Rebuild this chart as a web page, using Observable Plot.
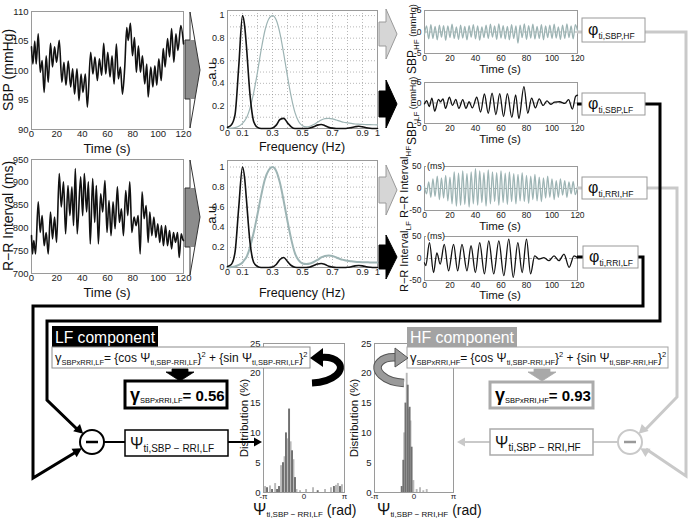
<!DOCTYPE html>
<html><head><meta charset="utf-8">
<script src="https://cdn.jsdelivr.net/npm/d3@7"></script>
<script src="https://cdn.jsdelivr.net/npm/@observablehq/plot@0.6"></script>
<style>
body{margin:0;background:#fff;}
#root{position:relative;width:689px;height:520px;overflow:hidden;background:#fff;font-family:"Liberation Sans",Arial,Helvetica,sans-serif;}
#root svg{position:absolute;overflow:visible;}
</style></head><body><div id="root"></div>
<script>
// ---------------- DATA ----------------
// Raw SBP (mmHg) vs time (s)
const sbpT = [0,1.1,2.6,3.7,5.3,6.9,8.4,10.0,11.6,13.2,15.0,16.6,18.2,19.8,21.9,24.0,25.6,27.2,29.0,30.9,32.5,34.0,35.9,37.5,39.1,40.6,42.5,44.1,46.7,48.5,50.1,52.0,53.6,55.4,57.0,58.6,60.2,62.0,63.6,65.2,67.0,68.6,70.2,71.8,73.6,75.2,76.3,78.1,79.7,81.3,82.8,84.4,86.0,87.6,89.4,91.0,92.1,94.2,95.8,97.4,98.9,100.5,102.4,104.0,105.5,107.4,109.0,110.6,112.4,114.0,115.6,117.9,120];
const sbpV = [104,101.1,105,101.1,106.2,99.7,101.7,96.3,102.5,98,104.6,100.6,104,101.4,105.1,98,101.4,97.5,101.6,97.2,100.3,96,100.3,94.9,99.4,96.3,99.4,93.8,103.1,99.4,102.3,98.3,102,99.2,104.6,99.4,103.1,98.9,102.5,97.7,104.5,98.6,100.6,96,100.5,107.3,105.1,108,102.5,105.6,99.7,104.2,99.7,102.5,97.7,101.1,95.5,100.6,97.2,100.8,97.5,102,98.3,103.7,100.6,105.4,102.3,107.1,101.4,106.2,103.4,107.6,104.5];
// Raw R-R interval (ms) vs time (s)
const rriT = [0,0.8,1.8,3.2,5.3,6.9,8.4,10.0,11.6,13.2,15.0,16.6,18.2,19.8,21.9,23.5,25.3,26.9,28.8,30.3,31.9,33.2,34.6,36.1,38.8,40.4,41.7,43.5,44.9,46.4,48.3,49.9,51.2,52.8,54.6,56.2,58.0,59.6,61.2,62.8,64.4,66.0,67.8,69.4,71.0,72.6,74.4,76.0,77.6,79.2,81.0,82.6,84.2,85.8,87.3,88.9,90.5,92.1,93.4,95.0,96.6,98.2,99.7,101.3,102.6,104.2,105.8,107.4,109.0,110.6,112.1,113.7,115.3,116.6,118.2,119.3,120];
const rriV = [783,743,772,743,857,790,827,761,790,743,835,776,824,768,919,846,901,787,893,827,890,805,930,787,912,827,919,835,901,765,908,812,893,765,875,835,904,790,860,783,857,798,890,812,842,783,882,827,901,790,824,805,827,743,879,820,849,768,835,783,824,779,809,768,805,761,805,761,794,754,790,768,790,735,787,776,772];
// Spectra (a.u.) vs frequency (Hz)
const specF = [0,0.025,0.05,0.075,0.1,0.115,0.125,0.15,0.175,0.2,0.225,0.25,0.275,0.3,0.325,0.35,0.375,0.4,0.425,0.45,0.475,0.5,0.525,0.55,0.575,0.6,0.625,0.65,0.675,0.7,0.725,0.75,0.775,0.8,0.825,0.85,0.875,0.9,0.925,0.95,0.975,1];
const sbpSpecLF = [0.01,0.03,0.12,0.55,1.0,0.9,0.75,0.3,0.06,0.01,0,0,0,0.005,0.03,0.08,0.09,0.05,0.015,0,0,0,0,0.005,0.015,0.03,0.035,0.025,0.01,0.003,0,0,0,0.002,0.008,0.015,0.02,0.015,0.007,0.002,0,0];
const sbpSpecHF = [0,0.003,0.008,0.02,0.045,0.07,0.09,0.18,0.32,0.5,0.7,0.87,0.97,1.0,0.96,0.84,0.66,0.46,0.28,0.14,0.06,0.025,0.015,0.02,0.035,0.055,0.075,0.088,0.09,0.085,0.075,0.065,0.055,0.05,0.045,0.04,0.038,0.036,0.035,0.034,0.033,0.032];
const rriSpecLF = [0.01,0.03,0.15,0.6,1.0,0.88,0.7,0.25,0.05,0.01,0,0,0,0.005,0.03,0.08,0.1,0.06,0.02,0.003,0,0,0,0.005,0.02,0.035,0.04,0.03,0.012,0.004,0,0,0,0.002,0.008,0.016,0.02,0.016,0.008,0.003,0,0];
const rriSpecHF = [0,0.004,0.01,0.025,0.05,0.08,0.1,0.2,0.35,0.53,0.72,0.88,0.97,1.0,0.96,0.84,0.66,0.46,0.28,0.14,0.07,0.04,0.035,0.04,0.055,0.075,0.1,0.115,0.12,0.115,0.1,0.085,0.075,0.067,0.062,0.058,0.055,0.053,0.052,0.051,0.05,0.05];
// Band-filtered signals
const hfT = [0,1.6,3.3,5.0,6.6,8.3,10.0,11.7,13.3,15.0,16.6,18.3,20.0,21.6,23.3,25.0,26.7,28.3,30.0,31.6,33.3,35.0,36.6,38.3,40.0,41.7,43.3,45.0,46.6,48.3,50.0,51.7,53.3,55.0,56.6,58.3,60.0,61.7,63.3,65.0,66.6,68.3,70.0,71.7,73.3,75.0,76.6,78.3,80.0,81.7,83.3,85.0,86.6,88.3,90.0,91.7,93.3,95.0,96.6,98.3,100.0,101.7,103.3,105.0,106.6,108.3,110.0,111.7,113.3,115.0,116.6,118.3,120];
const sbpHF = [-0.5,1.4,-1.6,1.7,-1.5,1.3,-1.8,1.6,-1.2,1.5,-1.9,1.4,-1.3,1.8,-1.5,1.2,-1.7,1.6,-1.4,1.3,-1.8,1.5,-1.2,1.7,-1.6,1.4,-1.9,1.2,-1.3,1.6,-1.5,1.8,-1.2,1.4,-1.7,1.9,-1.4,1.5,-1.6,1.3,-1.8,1.7,-1.5,1.4,-2.6,1.6,-1.3,1.9,-1.7,1.5,-1.4,1.8,-1.6,1.3,-1.5,1.7,-1.8,1.4,-1.3,1.6,-1.5,1.8,-1.4,1.2,-1.7,1.6,-1.5,1.9,-1.3,1.4,-1.6,1.7,0.3];
const rriHF = [5,-12,15,-20,22,-18,28,-25,24,-22,30,-28,26,-35,38,-40,35,-38,40,-36,34,-42,38,-35,45,-38,40,-32,36,-40,42,-35,38,-30,36,-38,40,-32,35,-36,38,-30,34,-35,32,-28,36,-30,30,-34,28,-25,32,-28,26,-30,24,-22,28,-20,22,-25,18,-20,22,-15,18,-20,15,-12,16,-14,5];
const sbpLFT = [0,1.8,3.7,5.8,8,11,12.5,14.5,16.5,19.5,22,24.5,27,30,32.5,35,37.5,41,44,47,50,53,56,59,62,65,68.5,71.5,74,78,81,84,87,90,93,96,99,102,106,110,113,116,118.5,120];
const sbpLFV = [-0.2,0.6,-0.9,1.2,-2.0,0.9,0.3,1.0,-1.3,1.4,-0.6,0.9,-1.3,0.8,-1.3,0.3,-1.2,1.4,-2.2,2.2,-2.5,2.4,-2.8,2.3,-3.3,2.3,-3.5,2.0,-3.8,4.0,-2.5,1.2,-1.2,1.0,-0.6,0.5,-0.3,0.2,0.3,-0.1,0.8,-1.5,1.6,1.9];
const rriLFT = [0,1,3.9,7.1,9.7,12.3,15.5,18.9,22.8,26,29.4,33.3,36.5,39.9,43.3,47,50.4,54.3,58.3,62.2,66.1,69.6,73.2,76.6,80,83.2,86.4,89.8,93.7,97.6,101.6,105.5,109.4,113.4,117.3,120];
const rriLFV = [-10,-16,36,-32,13,-13,32,-28,32,-28,32,-28,29,-32,36,-35,40,-35,40,-39,44,-43,36,-32,44,-35,6,-1.5,2,-5,6,-5,10,-20,6,2];
// Phase-difference histograms (bin centre in rad, distribution in %)
const lfDarkC = [-2.83,-2.44,-2.05,-1.9,-1.59,-1.36,-1.12,-0.89,-0.66,1.1,2.36,2.83];
const lfDarkV = [0.8,0.5,0.5,1.0,5.0,10.0,14.0,7.0,2.5,0.3,1.0,1.0];
const lfLightC = [-2.98,-2.6,-2.2,-1.74,-1.47,-1.24,-1.0,-0.78,-0.54,-0.27,0.2,0.74,1.67,2.13,2.52,2.67,2.98];
const lfLightV = [1.0,1.1,1.5,4.5,6.0,9.0,8.5,5.5,0.5,0.3,0.5,0.8,0.5,0.8,1.2,1.5,1.3];
const hfDarkC = [-0.94,-0.81,-0.64,-0.46,-0.31,-0.15];
const hfDarkV = [1,5.4,15,18,14.3,7.6];
const hfLightC = [-0.74,-0.54,-0.38,-0.24,-0.01,0.25,0.52,0.78,1.05];
const hfLightV = [10,20,14,12,2,0.5,0.8,0.3,0.5];
// Tick values
const timeTicks = [0,20,40,60,80,100,120];
const sbpTicks = [90,95,100,105,110];
const rriTicks = [700,750,800,850,900,950];
const freqTicks = [0,0.1,0.3,0.5,0.7,0.9,1];
const auTicks = [0,0.2,0.4,0.6,0.8,1];
const gridTicks = [0.1,0.2,0.3,0.4,0.5,0.6,0.7,0.8,0.9,1];
const sbpBandTicks = [-5,0,5];
const rriBandTicks = [-50,0,50];
const distTicks = [0,5,10,15,20,25];
const phaseTicks = [-Math.PI,0,Math.PI];
const phaseLabels = ["-π","0","π"];
// Results
const cohLF = "0.56", cohHF = "0.93";

// ---------------- CHARTS ----------------
const FONT = '"Liberation Sans", Arial, Helvetica, sans-serif';
const root = document.getElementById("root");
const pts = (xs, ys) => xs.map((x, i) => ({x, y: ys[i]}));
const HFC = "#9db4b4";

function chart(o) {
  const ML = 40, MR = 12, MT = 12, MB = 24;
  const svg = Plot.plot({
    width: o.fw + ML + MR, height: o.fh + MT + MB,
    marginLeft: ML, marginRight: MR, marginTop: MT, marginBottom: MB,
    style: `position:absolute;left:${o.fx - ML}px;top:${o.fy - MT}px;background:transparent;overflow:visible;font-family:${FONT};font-size:${o.fs || 9.5}px;color:#222;`,
    x: {domain: o.xd, label: null},
    y: {domain: o.yd, label: null},
    marks: [
      ...(o.under || []),
      Plot.frame({stroke: "#9a9a9a"}),
      Plot.axisX({ticks: o.xt, tickFormat: o.xf || (d => String(d)), tickSize: 0, tickPadding: o.xpad ?? 3, label: null, fontSize: o.xfs}),
      Plot.axisY({ticks: o.yt, tickFormat: o.yf || (d => String(d)), tickSize: 0, tickPadding: o.ypad ?? 3, label: null}),
      ...o.marks
    ]
  });
  root.appendChild(svg);
}

// Raw signals
chart({fx: 31, fy: 11, fw: 152, fh: 118, xd: [0, 120], yd: [90, 110], xt: timeTicks, yt: sbpTicks, xpad: 1,
  marks: [Plot.line(pts(sbpT, sbpV), {x: "x", y: "y", curve: "monotone-x", stroke: "#111", strokeWidth: 1.6})]});
chart({fx: 31, fy: 159, fw: 152, fh: 114, xd: [0, 120], yd: [700, 950], xt: timeTicks, yt: rriTicks, xpad: 1,
  marks: [Plot.line(pts(rriT, rriV), {x: "x", y: "y", curve: "monotone-x", stroke: "#111", strokeWidth: 1.6})]});

// Spectra
function spec(fy, fh, ytop, lf, hf, hfw) {
  chart({fx: 227, fy, fw: 150, fh, xd: [0, 1], yd: [0, ytop], xt: freqTicks, yt: auTicks, xpad: 1, fs: 9,
    under: [Plot.gridX(gridTicks, {stroke: "#888", strokeOpacity: 0.6, strokeDasharray: "1,2"}),
            Plot.gridY(gridTicks, {stroke: "#888", strokeOpacity: 0.6, strokeDasharray: "1,2"})],
    marks: [Plot.line(pts(specF, hf), {x: "x", y: "y", curve: "monotone-x", stroke: HFC, strokeWidth: hfw}),
            Plot.line(pts(specF, lf), {x: "x", y: "y", curve: "monotone-x", stroke: "#111", strokeWidth: 1.6})]});
}
spec(10, 118, 1.045, sbpSpecLF, sbpSpecHF, 1.2);
spec(160, 107, 1.065, rriSpecLF, rriSpecHF, 2);

// Band signals
function band(fy, fh, yd, yt, t, v, color) {
  chart({fx: 424, fy, fw: 153, fh, xd: [0, 120], yd, xt: timeTicks, yt, fs: 8.5, xpad: 1,
    under: [Plot.ruleY([0], {stroke: "#aaa", strokeDasharray: "3,2"})],
    marks: [Plot.line(pts(t, v), {x: "x", y: "y", curve: "monotone-x", stroke: color, strokeWidth: 1.3})]});
}
band(10, 43, [-5, 5], sbpBandTicks, hfT, sbpHF, HFC);
band(82, 41, [-5, 5], sbpBandTicks, sbpLFT, sbpLFV, "#111");
band(166, 44, [-50, 50], rriBandTicks, hfT, rriHF, HFC);
band(236, 44, [-50, 50], rriBandTicks, rriLFT, rriLFV, "#111");

// Histograms
function hist(fx, fw, dc, dv, lc, lv) {
  const bars = (c, v) => c.map((x, i) => ({x1: x - 0.075, x2: x + 0.075, y: v[i]}));
  chart({fx, fy: 343, fw, fh: 149, xd: [-Math.PI, Math.PI], yd: [0, 25], xt: phaseTicks, yt: distTicks,
    xf: (d, i) => phaseLabels[i], xfs: 8, xpad: 1,
    marks: [Plot.rect(bars(lc, lv), {x1: "x1", x2: "x2", y1: 0, y2: "y", fill: "#b9b9b9"}),
            Plot.rect(bars(dc, dv), {x1: "x1", x2: "x2", y1: 0, y2: "y", fill: "#707070"})]});
}
hist(263, 81, lfDarkC, lfDarkV, lfLightC, lfLightV);
hist(374, 79, hfDarkC, hfDarkV, hfLightC, hfLightV);

// ---------------- DIAGRAM OVERLAY ----------------
const S = [];
function rich(parts) {
  let prev = 0;
  return parts.map(([t, fs, sh = 0, extra = ""]) => { const dy = sh - prev; prev = sh;
    return `<tspan font-size="${fs}" dy="${dy}" ${extra}>${t}</tspan>`; }).join("");
}
const txt = (x, y, content, attrs = "") => S.push(`<text x="${x}" y="${y}" ${attrs}>${content}</text>`);
const rot = (x, y, content, attrs = "") => S.push(`<text transform="translate(${x},${y}) rotate(-90)" ${attrs}>${content}</text>`);
function head(x1, y1, x2, y2, size, color) {
  const a = Math.atan2(y2 - y1, x2 - x1), w = size * 0.55;
  const bx = x2 - size * Math.cos(a), by = y2 - size * Math.sin(a);
  const p = [[x2, y2], [bx + w * Math.sin(a), by - w * Math.cos(a)], [bx - w * Math.sin(a), by + w * Math.cos(a)]];
  S.push(`<polygon points="${p.map(q => q.join(",")).join(" ")}" fill="${color}"/>`);
}

// left dark block arrows
function darkArrow(yTop, yTip, yBot, b1, b2) {
  const xa = 185, xb = 190, xt = 200;
  const e1 = xb + (b1 - yTop) / (yTip - yTop) * (xt - xb);
  const e2 = xb + (yBot - b2) / (yBot - yTip) * (xt - xb);
  S.push(`<polygon points="${xa},${b1} ${e1},${b1} ${xt},${yTip} ${e2},${b2} ${xa},${b2}" fill="#8c8c8c"/>`);
  S.push(`<path d="M${xa},${b1} H${xb} V${yTop} L${xt},${yTip} L${xb},${yBot} V${b2} H${xa} Z" fill="none" stroke="#333" stroke-width="1"/>`);
}
darkArrow(12, 70, 128, 40, 99);
darkArrow(160, 217, 275, 188, 247);

// block arrows after spectra
function blockR(yc, bh, hh, fill, stroke) {
  const x0 = 379, xb = 386, xt = 397;
  S.push(`<polygon points="${x0},${yc - bh} ${xb},${yc - bh} ${xb},${yc - hh} ${xt},${yc} ${xb},${yc + hh} ${xb},${yc + bh} ${x0},${yc + bh}" fill="${fill}" stroke="${stroke}" stroke-width="1"/>`);
}
blockR(34, 12, 25, "#d6d6d6", "#9a9a9a");
blockR(104, 13, 24, "#000", "#000");
blockR(190, 13, 25, "#d6d6d6", "#9a9a9a");
blockR(257, 12, 22, "#000", "#000");

// connection lines
const G = "#c9c9c9";
S.push(`<path d="M577,32 H582 M645,32 H686 V476 L646,449" fill="none" stroke="${G}" stroke-width="3"/>`);
S.push(`<path d="M577,188 H582 M647,188 H677 V397 L645,430" fill="none" stroke="${G}" stroke-width="3"/>`);
head(677, 397, 638.7, 433.7, 9, G);
head(686, 476, 640.3, 448.2, 9, G);
S.push(`<path d="M577,104 H582 M645,104 H660 V321 H47 V400 L78,430" fill="none" stroke="#000" stroke-width="3"/>`);
S.push(`<path d="M577,257 H583 M638,257 H643 V306 H33 V478 L76,452" fill="none" stroke="#000" stroke-width="3"/>`);
head(47, 400, 83.2, 433.8, 9, "#000");
head(33, 478, 81.8, 448.3, 9, "#000");

// phi boxes
function phiBox(x, y, w, h, label, stroke) {
  S.push(`<rect x="${x}" y="${y}" width="${w}" height="${h}" fill="#fff" stroke="${stroke}" stroke-width="1"/>`);
  txt(x + 6, y + h / 2 + 5, rich([["φ", 16], [label, 8.5, 4]]), `fill="#111"`);
}
phiBox(582, 18, 63, 24, "ti,SBP,HF", "#9a9a9a");
phiBox(582, 93, 63, 22, "ti,SBP,LF", "#9a9a9a");
phiBox(582, 177, 65, 22, "ti,RRI,HF", "#9a9a9a");
phiBox(583, 246, 55, 22, "ti,RRI,LF", "#9a9a9a");

// minus circles
S.push(`<circle cx="92" cy="442" r="12" fill="#fff" stroke="#000" stroke-width="2"/>`);
S.push(`<path d="M86,442 H98" stroke="#000" stroke-width="2.5"/>`);
S.push(`<circle cx="630" cy="442" r="12" fill="#fff" stroke="${G}" stroke-width="2"/>`);
S.push(`<path d="M624,442 H636" stroke="#999" stroke-width="2.5"/>`);
S.push(`<path d="M104,442 H125" stroke="#000" stroke-width="2"/>`);
S.push(`<path d="M618,442 H593" stroke="${G}" stroke-width="2"/>`);
S.push(`<path d="M228,442 H255" stroke="#000" stroke-width="2"/>`);
head(228, 442, 262, 442, 8, "#000");
S.push(`<path d="M490,442 H464" stroke="${G}" stroke-width="2"/>`);
head(490, 442, 457, 442, 8, G);

// Psi boxes
S.push(`<rect x="125" y="430" width="103" height="26" fill="#fff" stroke="#000" stroke-width="1.5"/>`);
txt(130, 449, rich([["Ψ", 16], ["ti,SBP − RRI,LF", 10, 3]]), `fill="#111"`);
S.push(`<rect x="490" y="429" width="103" height="26" fill="#fff" stroke="#aaa" stroke-width="1.5"/>`);
txt(495, 448, rich([["Ψ", 16], ["ti,SBP − RRI,HF", 10, 3]]), `fill="#111"`);

// component headers + formulas
function formula(band) {
  return rich([["γ", 13], ["SBPxRRI," + band, 7.5, 3], ["= {cos Ψ", 12, 0], ["ti,SBP-RRI," + band, 7.5, 3], ["}", 12, 0], ["2", 7.5, -5], [" + {sin Ψ", 12, 0], ["ti,SBP-RRI," + band, 7.5, 3], ["}", 12, 0], ["2", 7.5, -5]]);
}
S.push(`<rect x="52" y="326" width="106" height="21" fill="#000"/>`);
txt(55, 343, "LF component", `fill="#fff" font-size="16" textLength="100" lengthAdjust="spacingAndGlyphs"`);
S.push(`<rect x="52" y="347" width="258" height="21" fill="#fff" stroke="#8c8c8c" stroke-width="1"/>`);
txt(55, 362, formula("LF"), `fill="#111"`);
S.push(`<rect x="407" y="327" width="110" height="20" fill="#a3a3a3"/>`);
txt(410, 343, "HF component", `fill="#fff" font-size="16" textLength="104" lengthAdjust="spacingAndGlyphs"`);
S.push(`<rect x="407" y="347" width="261" height="21" fill="#fff" stroke="#a3a3a3" stroke-width="1"/>`);
txt(410, 362, formula("HF"), `fill="#111"`);

// down block arrows
function blockD(xc, fill, stroke) {
  S.push(`<polygon points="${xc - 8},369 ${xc + 8},369 ${xc + 8},372 ${xc + 14},372 ${xc},381 ${xc - 14},372 ${xc - 8},372" fill="${fill}" stroke="${stroke}" stroke-width="0.8"/>`);
}
blockD(180, "#000", "#000");
blockD(542, "#a9a9a9", "#a9a9a9");

// result boxes
S.push(`<rect x="125" y="381" width="102" height="27" fill="#fff" stroke="#000" stroke-width="3"/>`);
txt(130, 401, rich([["γ", 18, 0, `font-weight="bold"`], ["SBPxRRI,LF", 7.5, 2], ["= " + cohLF, 15, 0, `font-weight="bold"`]]), `fill="#000"`);
S.push(`<rect x="490" y="382" width="103" height="26" fill="#fff" stroke="#ababab" stroke-width="3"/>`);
txt(495, 401, rich([["γ", 18, 0, `font-weight="bold"`], ["SBPxRRI,HF", 7.5, 2], ["= " + cohHF, 15, 0, `font-weight="bold"`]]), `fill="#000"`);

// curved arrows
S.push(`<path d="M312,383 C334,382 346,370 338,362 C333,357 327,357 321,357.5" fill="none" stroke="#000" stroke-width="7"/>`);
S.push(`<polygon points="323,348 310,358 323,367" fill="#000"/>`);
S.push(`<path d="M404,383 C384,382 372,370 380,362 C385,357 391,357 397,357.5" fill="none" stroke="#555" stroke-width="8.5"/>`);
S.push(`<path d="M404,383 C384,382 372,370 380,362 C385,357 391,357 397,357.5" fill="none" stroke="#9a9a9a" stroke-width="6.5"/>`);
S.push(`<polygon points="395,348 408,358 395,367" fill="#9a9a9a" stroke="#555" stroke-width="1"/>`);

// axis titles
const tstyle = `fill="#111" text-anchor="middle"`;
rot(13, 70, "SBP (mmHg)", `${tstyle} font-size="14"`);
rot(13, 216, "R−R Interval (ms)", `${tstyle} font-size="14"`);
txt(107, 153, "Time (s)", `${tstyle} font-size="13"`);
txt(107, 297, "Time (s)", `${tstyle} font-size="13"`);
rot(216, 69, "a.u.", `${tstyle} font-size="13"`);
rot(216, 213, "a.u.", `${tstyle} font-size="13"`);
txt(302, 151, "Frequency (Hz)", `${tstyle} font-size="12.5"`);
txt(302, 297, "Frequency (Hz)", `${tstyle} font-size="12.5"`);
txt(500, 73, "Time (s)", `${tstyle} font-size="11.5"`);
txt(500, 143, "Time (s)", `${tstyle} font-size="11.5"`);
txt(500, 230, "Time (s)", `${tstyle} font-size="11.5"`);
txt(500, 299, "Time (s)", `${tstyle} font-size="11.5"`);
rot(416, 74, rich([["SBP", 12], ["HF", 8, 3], [" (mmHg)", 9, 0]]), `fill="#111"`);
rot(416, 145, rich([["SBP", 12], ["LF", 8, 3], [" (mmHg)", 9, 0]]), `fill="#111"`);
rot(408, 218, rich([["R−R Interval", 11], ["HF", 8, 3]]), `fill="#111"`);
rot(408, 292, rich([["R−R Interval", 11], ["LF", 8, 3]]), `fill="#111"`);
S.push(`<rect x="426" y="163" width="18" height="8" fill="#fff"/>`);
txt(427, 169, "(ms)", `fill="#111" font-size="9"`);
S.push(`<rect x="426" y="233" width="18" height="8" fill="#fff"/>`);
txt(427, 239, "(ms)", `fill="#111" font-size="9"`);
rot(248, 418, "Distribution (%)", `${tstyle} font-size="11.5"`);
rot(358, 418, "Distribution (%)", `${tstyle} font-size="11.5"`);
txt(253, 515, rich([["Ψ", 16], ["ti,SBP − RRI,LF", 8, 2], [" (rad)", 14, 0]]), `fill="#111"`);
txt(377, 515, rich([["Ψ", 16], ["ti,SBP − RRI,HF", 8, 2], [" (rad)", 14, 0]]), `fill="#111"`);

root.insertAdjacentHTML("beforeend",
  `<svg width="689" height="520" viewBox="0 0 689 520" style="left:0;top:0;font-family:${FONT.replace(/"/g, "'")};white-space:pre">${S.join("")}</svg>`);
</script>
</body></html>
